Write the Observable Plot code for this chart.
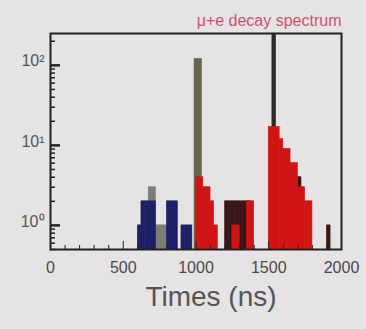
<!DOCTYPE html>
<html><head><meta charset="utf-8">
<script src="https://cdn.jsdelivr.net/npm/d3@7"></script>
<script src="https://cdn.jsdelivr.net/npm/@observablehq/plot@0.6"></script>
<style>
html,body{margin:0;padding:0;background:#e5e3e3;}
#chart{width:366px;height:329px;}
</style></head><body><div id="chart"></div>
<script>
// ---- data (bin left edges in ns, 25 ns bins; counts) ----
const binWidth = 25;
const grayT  = [675, 700, 725, 750, 775];
const grayV  = [3, 3, 1, 1, 1];
const blueT  = [600, 625, 650, 675, 700, 800, 825, 850, 900, 925, 950];
const blueV  = [1, 2, 2, 2, 2, 2, 2, 2, 1, 1, 1];
const oliveT = [990, 1015];
const oliveV = [120, 120];
const spikeT = [1525];
const spikeV = [400];
const darkT  = [1200, 1225, 1250, 1275, 1300, 1325, 1350, 1700, 1900];
const darkV  = [2, 2, 2, 2, 2, 2, 2, 4, 1];
const redT   = [1000, 1025, 1050, 1075, 1100, 1125, 1250, 1275, 1350, 1375,
                1500, 1525, 1550, 1575, 1600, 1625, 1650, 1675, 1700, 1725, 1750, 1775];
const redV   = [4, 4, 3, 3, 2, 1, 1, 1, 2, 2,
                17, 17, 17, 12, 9, 9, 6, 6, 3, 3, 2, 2];
const xTickValues = [0, 500, 1000, 1500, 2000];
const xTickLabels = ["0", "500", "1000", "1500", "2000"];
const xMinorTicks = [100, 200, 300, 400, 600, 700, 800, 900, 1100, 1200, 1300, 1400, 1600, 1700, 1800, 1900];
const xMajorTicks = [500, 1000, 1500];
const yMajor = [1, 10, 100];
const yLabels = ["10\u2070", "10\u00b9", "10\u00b2"];
const yMinor = [0.5, 0.6, 0.7, 0.8, 0.9, 2, 3, 4, 5, 6, 7, 8, 9, 20, 30, 40, 50, 60, 70, 80, 90, 200];
const yDomain = [0.5, 250];
const xDomain = [0, 2000];
const title = "\u03bc+e decay spectrum";
const xLabel = "Times (ns)";

const rows = (T, V) => T.map((t, i) => ({t, v: V[i]}));
const bars = (T, V, fill) => Plot.rect(rows(T, V), {
  x1: "t", x2: d => d.t + binWidth, y1: yDomain[0], y2: "v",
  fill, stroke: fill, strokeWidth: 0.6, clip: true
});

const W = 366, H = 329, ML = 50, MR = 25, MT = 33, MB = 80;
const fw = W - ML - MR, fh = H - MT - MB;

const chart = Plot.plot({
  width: W, height: H,
  marginLeft: ML, marginRight: MR, marginTop: MT, marginBottom: MB,
  style: {background: "transparent", fontFamily: "Liberation Sans, Arial, sans-serif", color: "#4a4a4a"},
  x: {domain: xDomain},
  y: {type: "log", domain: yDomain, axis: null},
  marks: [
    bars(grayT, grayV, "#7d7c76"),
    bars(oliveT, oliveV, "#6a6446"),
    bars(spikeT, spikeV, "#2a2a2a"),
    bars(darkT, darkV, "#3a1616"),
    bars(blueT, blueV, "#1d2066"),
    bars(redT, redV, "#d01414"),
    Plot.tickX(xMinorTicks, {x: d => d, insetTop: fh - 4, stroke: "#222"}),
    Plot.tickX(xMajorTicks, {x: d => d, insetTop: fh - 8, stroke: "#222"}),
    Plot.tickY(yMinor, {y: d => d, insetRight: fw - 5, stroke: "#222", strokeWidth: 1.5}),
    Plot.tickY(yMajor, {y: d => d, insetRight: fw - 10, stroke: "#222", strokeWidth: 2.5}),
    Plot.frame({stroke: "#222", strokeWidth: 2}),
    Plot.axisX({ticks: xTickValues, tickFormat: (d, i) => xTickLabels[i], tickSize: 0, tickPadding: 12, fontSize: 16, label: null}),
    Plot.text(yMajor, {x: xDomain[0], y: d => d, text: (d, i) => yLabels[i], textAnchor: "end", dx: -6, dy: -4, fontSize: 16, fill: "#555"}),
    Plot.text([xLabel], {frameAnchor: "bottom", dx: 15, dy: 56, fontSize: 28, fill: "#555"}),
    Plot.text([title], {frameAnchor: "top-right", dy: -19, fontSize: 16, fill: "#d0506e"})
  ]
});
document.getElementById("chart").appendChild(chart);
</script>
</body></html>
